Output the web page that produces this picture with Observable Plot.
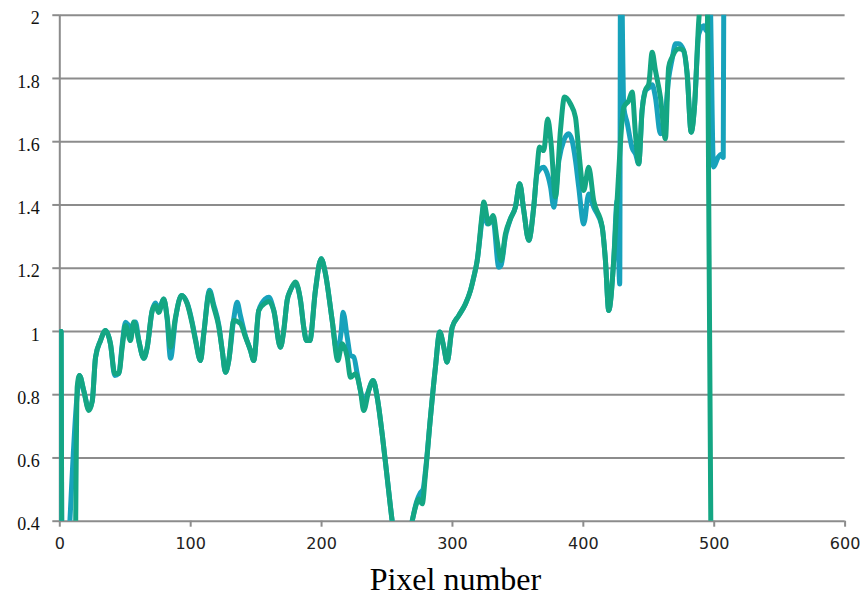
<!DOCTYPE html>
<html>
<head>
<meta charset="utf-8">
<script src="https://cdn.jsdelivr.net/npm/d3@7"></script>
<script src="https://cdn.jsdelivr.net/npm/@observablehq/plot@0.6"></script>
<style>
  html, body { margin: 0; padding: 0; background: #fff; }
</style>
</head>
<body>
<div id="chart"></div>
<script>
// ---- data ----
const xLabel = "Pixel number";
const xTicks = [0, 100, 200, 300, 400, 500, 600];
const xTickLabels = ["0", "100", "200", "300", "400", "500", "600"];
const yTicks = [0.4, 0.6, 0.8, 1.0, 1.2, 1.4, 1.6, 1.8, 2.0];
const yTickLabels = ["0.4", "0.6", "0.8", "1", "1.2", "1.4", "1.6", "1.8", "2"];

// green series
const greenX = [1, 2, 11, 13.3, 15.0, 18.3, 22.2, 24.8, 27.3, 31.1, 34.9, 38.7, 42.0, 45.1, 47.7, 50.2, 54.0, 56.5, 57.8, 60.4,
  64.2, 66.8, 70.6, 73.1, 75.6, 79.4, 82.0, 84.6, 88.4, 93.0, 97.3, 101.1, 103.7, 107.5, 110.0, 114.4, 117.6, 121.5, 124.1, 126.6,
  129.1, 132.9, 138.0, 141.9, 145.7, 148.2, 152.0, 157.1, 159.7, 163.5, 168.6, 171.1, 173.7, 176.2, 180.1, 183.9, 186.4, 188.5, 191.0, 195.3,
  199.7, 203.0, 208.1, 212.4, 215.7, 219.6, 222.1, 225.9, 229.7, 232.2, 236.1, 239.4, 242.5, 246.3, 250.1, 253.9, 261.0, 269.2, 271.7, 274.3,
  276.9, 279.4, 283.2, 287.0, 290.3, 293.4, 295.9, 299.8, 304.8, 309.9, 313.8, 316.3, 318.9, 322.7, 323.9, 327.7, 331.1, 334.1, 337.2, 340.5,
  344.3, 348.1, 351.4, 354.5, 358.3, 362.1, 364.7, 366.5, 369.7, 372.8, 375.4, 378.7, 382.5, 385.6, 390.1, 394.0, 396.5, 400.3, 404.1, 407.9,
  414.4, 416.9, 419.4, 423.2, 425.8, 430.9, 434.7, 437.3, 439.8, 442.3, 444.9, 447.4, 450.0, 452.6, 455.1, 458.9, 462.7, 465.2, 467.8, 472.9,
  476.7, 479.3, 482.4, 484.9, 488.2, 491.0, 494.8, 498.0];
const greenY = [1.0, 0.0, 0.0, 0.825, 0.861, 0.813, 0.75, 0.78, 0.918, 0.971, 1.003, 0.961, 0.867, 0.867, 0.95, 1.019, 0.971, 1.03, 1.02, 0.97,
  0.915, 0.95, 1.066, 1.082, 1.06, 1.103, 1.045, 0.95, 1.045, 1.114, 1.088, 1.025, 0.971, 0.908, 0.993, 1.124, 1.077, 1.014, 0.94, 0.871,
  0.908, 1.035, 1.025, 0.982, 0.94, 0.908, 1.066, 1.09, 1.095, 1.066, 0.95, 1.003, 1.098, 1.13, 1.156, 1.098, 1.013, 0.971, 0.971, 1.13,
  1.23, 1.182, 1.035, 0.908, 0.961, 0.919, 0.855, 0.866, 0.813, 0.75, 0.813, 0.845, 0.792, 0.676, 0.539, 0.402, 0.22, 0.40, 0.444, 0.47,
  0.455, 0.55, 0.729, 0.887, 0.998, 0.95, 0.903, 1.013, 1.05, 1.087, 1.13, 1.172, 1.224, 1.372, 1.409, 1.34, 1.367, 1.288, 1.224, 1.309,
  1.356, 1.393, 1.467, 1.382, 1.288, 1.393, 1.519, 1.583, 1.572, 1.672, 1.593, 1.425, 1.635, 1.741, 1.72, 1.677, 1.572, 1.446, 1.519, 1.414,
  1.33, 1.224, 1.066, 1.224, 1.414, 1.709, 1.73, 1.757, 1.625, 1.53, 1.699, 1.762, 1.783, 1.883, 1.825, 1.741, 1.609, 1.836, 1.867, 1.894,
  1.888, 1.815, 1.63, 1.709, 1.983, 2.08, 2.08, 0.0];

// blue series
const blueX = [1, 2, 13.3, 15.0, 18.3, 22.2, 24.8, 27.3, 31.1, 34.9, 38.7, 42.0, 45.1, 47.7, 50.2, 52.5, 55.1, 57.8, 60.4, 64.2,
  66.8, 70.6, 73.1, 75.6, 79.4, 82.0, 84.6, 88.4, 93.0, 97.3, 101.1, 103.7, 107.5, 110.0, 114.4, 117.6, 121.5, 124.1, 126.6, 129.1,
  132.9, 135.5, 138.0, 141.9, 145.7, 148.2, 152.0, 157.1, 159.7, 163.5, 168.6, 171.1, 173.7, 176.2, 180.1, 183.9, 186.4, 188.5, 191.0, 195.3,
  199.7, 203.0, 208.1, 211.6, 215.0, 216.4, 219.6, 222.1, 224.6, 227.2, 229.7, 232.2, 234.8, 239.4, 242.5, 246.3, 250.1, 253.9, 261.0, 269.2,
  272.5, 275.5, 277.5, 279.4, 283.2, 287.0, 290.3, 293.4, 295.9, 299.8, 304.8, 309.9, 313.8, 316.3, 318.9, 322.7, 323.9, 326.5, 331.1, 335.4,
  337.2, 340.5, 344.3, 348.1, 351.4, 354.5, 358.3, 362.1, 364.7, 369.7, 371.3, 375.0, 377.4, 381.3, 385.1, 388.8, 391.4, 394.0, 396.5, 400.3,
  404.1, 407.9, 414.4, 416.9, 419.4, 423.2, 425.8, 427.8, 428.5, 430.9, 433.5, 437.3, 440.0, 442.3, 444.9, 447.4, 450.0, 452.6, 455.1, 458.9,
  461.4, 465.2, 467.8, 470.5, 472.9, 476.7, 479.3, 482.4, 484.9, 488.2, 491.9, 494.2, 496.5, 499.5, 502.9, 505.7, 506.9, 507.5];
const blueY = [1.0, 0.1, 0.80, 0.861, 0.813, 0.755, 0.78, 0.918, 0.971, 1.003, 0.961, 0.861, 0.867, 0.96, 1.029, 1.02, 1.01, 1.03, 0.97, 0.915,
  0.95, 1.066, 1.09, 1.07, 1.103, 1.04, 0.915, 1.04, 1.114, 1.09, 1.03, 0.975, 0.908, 0.993, 1.13, 1.085, 1.02, 0.94, 0.871, 0.908,
  1.04, 1.092, 1.05, 0.985, 0.94, 0.908, 1.066, 1.103, 1.108, 1.066, 0.95, 1.003, 1.098, 1.13, 1.15, 1.098, 1.013, 0.971, 0.971, 1.13,
  1.23, 1.182, 1.035, 0.94, 1.0, 1.061, 0.982, 0.924, 0.919, 0.867, 0.813, 0.772, 0.80, 0.845, 0.792, 0.676, 0.539, 0.402, 0.22, 0.40,
  0.46, 0.49, 0.50, 0.56, 0.729, 0.887, 0.998, 0.95, 0.903, 1.013, 1.05, 1.087, 1.13, 1.172, 1.224, 1.36, 1.40, 1.34, 1.35, 1.203,
  1.21, 1.30, 1.356, 1.393, 1.467, 1.382, 1.288, 1.393, 1.50, 1.519, 1.51, 1.456, 1.393, 1.54, 1.604, 1.625, 1.604, 1.541, 1.456, 1.34,
  1.435, 1.393, 1.33, 1.224, 1.066, 1.224, 1.414, 1.15, 2.3, 1.71, 1.66, 1.58, 1.56, 1.53, 1.699, 1.762, 1.77, 1.78, 1.74, 1.625,
  1.64, 1.80, 1.86, 1.91, 1.91, 1.888, 1.815, 1.63, 1.709, 1.94, 1.967, 1.95, 2.1, 1.52, 1.55, 1.56, 1.55, 2.3];

const green = greenX.map((x, i) => ({x, y: greenY[i]}));
const blue = blueX.map((x, i) => ({x, y: blueY[i]}));

const gridColor = "#8c8c8c";
const chart = Plot.plot({
  width: 864,
  height: 603,
  marginLeft: 59.3,
  marginRight: 19.4,
  marginTop: 14.7,
  marginBottom: 82.3,
  x: {type: "linear", domain: [0, 600], axis: null},
  y: {type: "linear", domain: [0.4, 2], axis: null},
  marks: [
    Plot.gridY(yTicks, {stroke: gridColor, strokeOpacity: 1, strokeWidth: 2}),
    Plot.ruleX([0], {stroke: gridColor, strokeWidth: 2}),
    Plot.axisY(yTicks, {tickSize: 7, stroke: gridColor, strokeWidth: 2, text: null, label: null}),
    Plot.axisX(xTicks, {tickSize: 6, stroke: gridColor, strokeWidth: 2, text: null, label: null}),
    Plot.text(yTicks, {x: 0, y: d => d, text: (d, i) => yTickLabels[i], textAnchor: "end", dx: -20, dy: 3.5,
      fontFamily: "Liberation Serif", fontSize: 18, fill: "#111"}),
    Plot.text(xTicks, {x: d => d, frameAnchor: "bottom", text: (d, i) => xTickLabels[i], dy: 27.5,
      fontFamily: "DejaVu Sans", fontSize: 16, fill: "#222"}),
    Plot.line(blue, {x: "x", y: "y", stroke: "#17a2bb", strokeWidth: 5, curve: "monotone-x",
      strokeLinejoin: "round", strokeLinecap: "round", clip: true}),
    Plot.line(green, {x: "x", y: "y", stroke: "#14a683", strokeWidth: 5, curve: "monotone-x",
      strokeLinejoin: "round", strokeLinecap: "round", clip: true}),
    Plot.text([xLabel], {text: d => d, frameAnchor: "bottom", dy: 69, dx: 3,
      fontFamily: "Liberation Serif", fontSize: 32, fill: "#000"})
  ]
});
document.getElementById("chart").appendChild(chart);
</script>
</body>
</html>
